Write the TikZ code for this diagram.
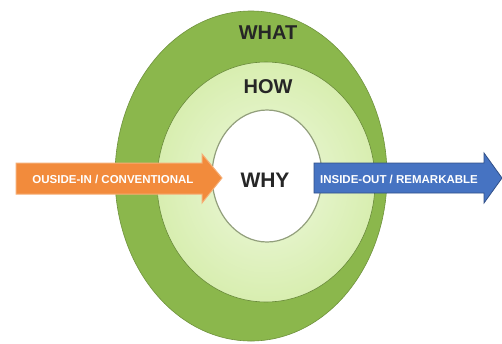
\documentclass[tikz,border=0pt]{standalone}
\usepackage{fontspec}
\setmainfont{Liberation Sans}
\begin{document}
\begin{tikzpicture}[x=1pt,y=-1pt,
  ringlabel/.style={font=\bfseries\fontsize{20}{20}\selectfont, text=black!85},
  arrowlabel/.style={font=\bfseries\fontsize{11.5}{12}\selectfont, text=white, inner sep=0pt}]
\definecolor{darkgreen}{HTML}{8BB74C}
\definecolor{lightgreen}{HTML}{D8EEB0}
\definecolor{palegreen}{HTML}{EEF8DE}
\definecolor{orangearrow}{HTML}{F28B3C}
\definecolor{bluearrow}{HTML}{4673C2}
\useasboundingbox (0,0) rectangle (502,343);
\fill[white] (0,0) rectangle (502,343);
% rings
\fill[darkgreen, draw=darkgreen!80!black, line width=0.6pt] (251,176) ellipse [x radius=136, y radius=165];
\shade[inner color=palegreen, outer color=lightgreen] (266,182) ellipse [x radius=109, y radius=120];
\draw[darkgreen!75!black, line width=0.6pt] (266,182) ellipse [x radius=109, y radius=120];
\fill[white, draw=black!30!lightgreen!80!gray, line width=1.2pt] (267,176) ellipse [x radius=55, y radius=66];
% labels
\node[ringlabel] (what) at (268,33) {WHAT};
\node[ringlabel] (how) at (268,87) {HOW};
\node[ringlabel, font=\bfseries\fontsize{21}{21}\selectfont] (why) at (265,180) {WHY};
% orange arrow
\fill[orangearrow, draw=orangearrow!70!white, line width=1pt]
  (16,163) -- (202,163) -- (202,154) -- (222,178) -- (202,203) -- (202,194) -- (16,194) -- cycle;
\node[arrowlabel] (outin) at (113,179) {OUSIDE-IN / CONVENTIONAL};
% blue arrow
\fill[bluearrow, draw=bluearrow!70!black, line width=0.8pt]
  (314,163) -- (484,163) -- (484,153) -- (502,178) -- (484,203) -- (484,193) -- (314,193) -- cycle;
\node[arrowlabel] (inout) at (399,179) {INSIDE-OUT / REMARKABLE};
\end{tikzpicture}
\end{document}
